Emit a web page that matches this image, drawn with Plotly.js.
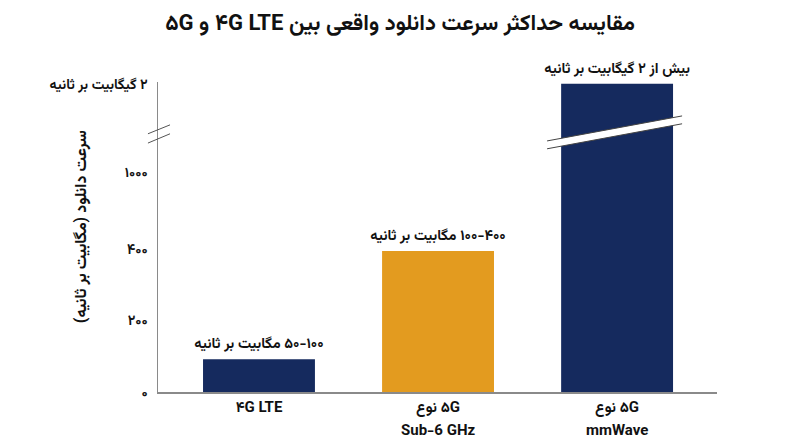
<!DOCTYPE html>
<html>
<head>
<meta charset="utf-8">
<script src="https://cdn.plot.ly/plotly-3.0.1.min.js"></script>
<style>
  html, body { margin: 0; padding: 0; background: #fff; }
  #plot { width: 800px; height: 447px; }
</style>
</head>
<body>
<div id="plot"></div>
<script>
// wrap persian strings so they are laid out right-to-left inside svg text
const rtl = s => '\u202B' + s + '\u202C';

const categories = ['4G LTE', '5G Sub-6 GHz', '5G mmWave'];
const catTop = ['۴G LTE', '۵G نوع', '۵G نوع'];
const catSub = ['', 'Sub-6 GHz', 'mmWave'];
// heights on the drawn (broken) axis
const speeds = [92, 395, 863];
const barLabels = ['۵۰-۱۰۰ مگابیت بر ثانیه', '۱۰۰-۴۰۰ مگابیت بر ثانیه', 'بیش از ۲ گیگابیت بر ثانیه'];
const barColors = ['#152a5e', '#e39b1f', '#152a5e'];

const tickVals = [0, 200, 400, 616, 863];
const tickText = ['۰', '۲۰۰', '۴۰۰', '۱۰۰۰', '۲ گیگابیت بر ثانیه'];

const chartTitle = 'مقایسه حداکثر سرعت دانلود واقعی بین ۴G LTE و ۵G';
const yTitle = 'سرعت دانلود (مگابیت بر ثانیه)';

// where the axis is broken (axis units)
const breakAt = 722;

const FONT = 'Vazirmatn, "Noto Sans Arabic", Roboto, "DejaVu Sans", sans-serif';
const labelFont = { family: FONT, size: 15, color: '#111', weight: 700 };

const trace = {
  x: categories,
  y: speeds,
  type: 'bar',
  width: 0.625,
  marker: { color: barColors },
  text: barLabels.map(rtl),
  textposition: 'outside',
  constraintext: 'none',
  textfont: { family: FONT, size: 14.5, color: '#111', weight: 700 },
  cliponaxis: false,
  hoverinfo: 'none'
};

const axisLine = '#8a8a8a';

// second line of the category labels
const subLabels = categories
  .map((c, i) => ({ c, t: catSub[i] }))
  .filter(d => d.t)
  .map(d => ({
    text: d.t,
    xref: 'x', yref: 'paper',
    x: d.c, y: -0.126,
    xanchor: 'center', yanchor: 'middle',
    showarrow: false,
    font: labelFont
  }));

const layout = {
  width: 800,
  height: 447,
  paper_bgcolor: '#fff',
  plot_bgcolor: '#fff',
  margin: { l: 158, r: 83, t: 82, b: 55 },
  showlegend: false,
  title: {
    text: rtl(chartTitle),
    x: 0.5,
    xref: 'container',
    xanchor: 'center',
    y: 0.951,
    yref: 'container',
    yanchor: 'middle',
    font: { family: FONT, size: 22, color: '#111', weight: 700 }
  },
  xaxis: {
    type: 'category',
    range: [-0.564, 2.558],
    tickvals: categories,
    ticktext: catTop.map(rtl),
    showline: true,
    linecolor: axisLine,
    linewidth: 1.5,
    showgrid: false,
    zeroline: false,
    ticks: '',
    ticklabelstandoff: 0,
    tickfont: labelFont,
    fixedrange: true
  },
  yaxis: {
    range: [0, 868],
    tickvals: tickVals,
    ticktext: tickText.map(rtl),
    showline: true,
    linecolor: axisLine,
    linewidth: 1.5,
    showgrid: false,
    zeroline: false,
    ticks: '',
    ticklabelstandoff: 6,
    tickfont: { family: FONT, size: 14, color: '#111', weight: 700 },
    fixedrange: true
  },
  annotations: [
    {
      text: rtl(yTitle),
      xref: 'paper', yref: 'paper',
      x: -0.136, y: 0.535,
      xanchor: 'center', yanchor: 'middle',
      textangle: -90,
      showarrow: false,
      font: { family: FONT, size: 16, color: '#111', weight: 700 }
    },
    ...subLabels
  ],
  shapes: [
    // break marks on the y axis
    { type: 'line', xref: 'paper', yref: 'y', x0: -0.018, x1: 0.0215, y0: breakAt + 1, y1: breakAt + 26,
      line: { color: '#555', width: 1 } },
    { type: 'line', xref: 'paper', yref: 'y', x0: -0.018, x1: 0.0215, y0: breakAt - 25, y1: breakAt + 1,
      line: { color: '#555', width: 1 } },
    // white gap cut through the tall bar
    { type: 'path', xref: 'x', yref: 'y',
      path: `M 1.609 ${breakAt - 19} L 2.363 ${breakAt + 51} L 2.363 ${breakAt + 29} L 1.609 ${breakAt - 41} Z`,
      fillcolor: '#fff', line: { width: 0 } },
    { type: 'line', xref: 'x', yref: 'y', x0: 1.609, x1: 2.363, y0: breakAt - 19, y1: breakAt + 51,
      line: { color: '#444', width: 1 } },
    { type: 'line', xref: 'x', yref: 'y', x0: 1.609, x1: 2.363, y0: breakAt - 41, y1: breakAt + 29,
      line: { color: '#444', width: 1 } }
  ]
};

Plotly.newPlot('plot', [trace], layout, { displayModeBar: false, staticPlot: true });
</script>
</body>
</html>
